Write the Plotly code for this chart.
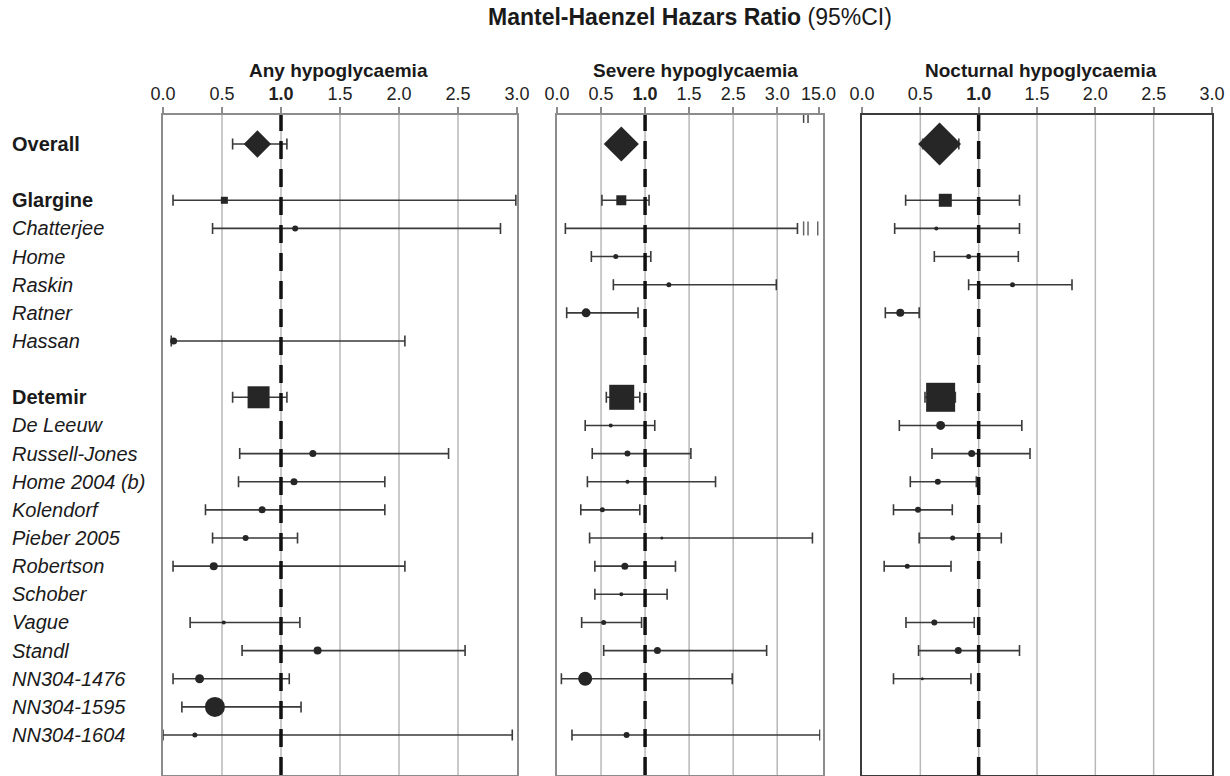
import plotly.graph_objects as go

# ---------------- data ----------------
rows = ["Overall", None, "Glargine", "Chatterjee", "Home", "Raskin", "Ratner", "Hassan", None,
        "Detemir", "De Leeuw", "Russell-Jones", "Home 2004 (b)", "Kolendorf", "Pieber 2005",
        "Robertson", "Schober", "Vague", "Standl", "NN304-1476", "NN304-1595", "NN304-1604"]
bold_rows = ["Overall", "Glargine", "Detemir"]
studies = [r for r in rows if r is not None]

# Any hypoglycaemia
any_hr = [0.80, 0.52, 1.12, None, None, None, 0.09, 0.81, None, 1.27, 1.11, 0.84, 0.70, 0.43, None, 0.515, 1.31, 0.31, 0.44, 0.27]
any_lo = [0.59, 0.085, 0.42, None, None, None, 0.07, 0.59, None, 0.65, 0.64, 0.36, 0.42, 0.085, None, 0.23, 0.67, 0.085, 0.16, 0.0]
any_hi = [1.05, 2.99, 2.86, None, None, None, 2.05, 1.05, None, 2.42, 1.88, 1.88, 1.14, 2.05, None, 1.16, 2.56, 1.07, 1.17, 2.96]

# Severe hypoglycaemia (positions on the broken axis)
sev_hr = [0.73, 0.73, 1.0, 0.667, 1.27, 0.33, None, 0.735, 0.61, 0.80, 0.80, 0.515, 1.19, 0.77, 0.73, 0.53, 1.14, 0.32, None, 0.79]
sev_lo = [None, 0.51, 0.095, 0.39, 0.64, 0.11, None, 0.56, 0.32, 0.40, 0.345, 0.27, 0.37, 0.43, 0.43, 0.28, 0.53, 0.05, None, 0.17]
sev_hi = [None, 1.045, 2.73, 1.065, 2.49, 0.92, None, 0.94, 1.11, 1.52, 1.80, 0.94, 2.90, 1.345, 1.25, 0.96, 2.38, 1.99, None, 2.985]

# Nocturnal hypoglycaemia
noc_hr = [0.665, 0.714, 0.637, 0.914, 1.29, 0.328, None, 0.674, 0.674, 0.94, 0.65, 0.48, 0.777, 0.388, None, 0.62, 0.825, 0.517, None, None]
noc_lo = [0.52, 0.374, 0.28, 0.62, 0.914, 0.20, None, 0.54, 0.32, 0.60, 0.414, 0.27, 0.49, 0.19, None, 0.377, 0.485, 0.27, None, None]
noc_hi = [0.83, 1.35, 1.35, 1.34, 1.80, 0.49, None, 0.80, 1.37, 1.44, 0.98, 0.774, 1.194, 0.763, None, 0.962, 1.35, 0.934, None, None]

tick_vals_std = [0.0, 0.5, 1.0, 1.5, 2.0, 2.5, 3.0]
tick_text_std = ["0.0", "0.5", "<b>1.0</b>", "1.5", "2.0", "2.5", "3.0"]
tick_vals_sev = [0.0, 0.5, 1.0, 1.5, 2.0, 2.5, 2.97]
tick_text_sev = ["0.0", "0.5", "<b>1.0</b>", "1.5", "2.5", "3.0", "15.0"]
sev_break = 2.80

# ---------------- styles ----------------
any_size = [21, 7, 6, 0, 0, 0, 7, 22, 0, 7, 7, 7, 6, 8, 0, 4, 8, 9, 20, 5]
sev_size = [27, 10, 3, 5, 5, 9, 0, 25, 4, 6, 4, 5, 3, 7, 4, 5, 7, 14, 0, 6]
noc_size = [33, 13, 4, 5, 5, 8, 0, 29, 9, 7, 6, 6, 5, 5, 0, 6, 7, 3, 0, 0]
sym_map = {"Overall": "diamond", "Glargine": "square", "Detemir": "square"}

W, H = 1230, 776
def px(x):
    return x / W
def py(y):
    return 1 - y / H

TOP, BOT = 115, 775
FONT = "Liberation Sans, Arial, sans-serif"
ypos = {r: i for i, r in enumerate(rows) if r is not None}
y_top_val = -1.03
y_bot_val = 22.42

fig = go.Figure()

def add_panel(hr, lo, hi, sizes, xa, ya):
    xs, ys, sz, sy = [], [], [], []
    ex, ey, ep, em = [], [], [], []
    for s, v, l, h, z in zip(studies, hr, lo, hi, sizes):
        if v is None:
            continue
        xs.append(v)
        ys.append(ypos[s])
        sz.append(z)
        sy.append(sym_map.get(s, "circle"))
        if l is not None and h is not None:
            ex.append(v)
            ey.append(ypos[s])
            ep.append(h - v)
            em.append(v - l)
    fig.add_trace(go.Scatter(
        x=ex, y=ey, mode="markers", xaxis=xa, yaxis=ya, showlegend=False,
        marker=dict(size=1, color="rgba(0,0,0,0)"),
        error_x=dict(type="data", symmetric=False, array=ep, arrayminus=em,
                     width=5.5, thickness=1.6, color="#3a3a3a"),
        hoverinfo="skip"))
    fig.add_trace(go.Scatter(
        x=xs, y=ys, mode="markers", xaxis=xa, yaxis=ya, showlegend=False,
        marker=dict(symbol=sy, size=sz, color="#262626", opacity=1, line=dict(width=0)),
        hoverinfo="x+y"))

add_panel(any_hr, any_lo, any_hi, any_size, "x", "y")
add_panel(sev_hr, sev_lo, sev_hi, sev_size, "x2", "y2")
add_panel(noc_hr, noc_lo, noc_hi, noc_size, "x3", "y3")

panels = [
    ("xaxis", "yaxis", "x", "y", [163, 517], [0, 3.0], tick_vals_std, tick_text_std, "#8c8c8c"),
    ("xaxis2", "yaxis2", "x2", "y2", [557, 823], [0, 3.02], tick_vals_sev, tick_text_sev, "#8c8c8c"),
    ("xaxis3", "yaxis3", "x3", "y3", [862, 1212], [0, 3.0], tick_vals_std, tick_text_std, "#3c3c3c"),
]
ydom = [py(BOT), py(TOP)]
shapes = []
for xk, yk, xr, yr, dom, rng, tv, tt, fc in panels:
    fig.layout[xk] = dict(domain=[px(dom[0]), px(dom[1])], range=rng, side="top",
                          anchor=yr, tickvals=tv, ticktext=tt, ticks="outside",
                          ticklen=6, tickwidth=1.5, tickcolor="#8c8c8c",
                          showline=True, mirror=True, linecolor=fc, linewidth=2,
                          showgrid=False, zeroline=False, automargin=False,
                          tickfont=dict(family=FONT, size=18, color="#222"),
                          fixedrange=True)
    fig.layout[yk] = dict(domain=ydom, range=[y_bot_val, y_top_val], anchor=xr,
                          showline=True, mirror=True, linecolor=fc, linewidth=2,
                          showticklabels=False, ticks="", showgrid=False,
                          zeroline=False, automargin=False, fixedrange=True)
    for v in tv[1:-1]:
        shapes.append(dict(type="line", xref=xr, yref=yr + " domain", x0=v, x1=v, y0=0, y1=1,
                           line=dict(color="#b8b8b8", width=1.5), layer="below"))
    shapes.append(dict(type="line", xref=xr, yref=yr + " domain", x0=1.0, x1=1.0, y0=0, y1=1,
                       line=dict(color="#111", width=3.5, dash="18px,10px"), layer="above"))

# broken axis details for severe panel
shapes.append(dict(type="rect", xref="x2", yref="y2", x0=2.74, x1=2.93, y0=-1.6, y1=-0.6,
                   fillcolor="white", line=dict(width=0), layer="above"))
for dx in [0.0, 0.05]:
    shapes.append(dict(type="line", xref="x2", yref="y2", x0=sev_break + dx, x1=sev_break + dx,
                       y0=-1.3, y1=-0.75, line=dict(color="#444", width=1.5), layer="above"))
for r in ["Chatterjee", "NN304-1604"]:
    shapes.append(dict(type="rect", xref="x2", yref="y2", x0=2.99, x1=3.05,
                       y0=ypos[r] - 0.55, y1=ypos[r] + 0.45,
                       fillcolor="white", line=dict(width=0), layer="above"))
for dx in [0.0, 0.05, 0.16]:
    shapes.append(dict(type="line", xref="x2", yref="y2", x0=sev_break + dx, x1=sev_break + dx,
                       y0=ypos["Chatterjee"] - 0.25, y1=ypos["Chatterjee"] + 0.25,
                       line=dict(color="#666", width=1.5), layer="above"))
shapes.append(dict(type="rect", xref="x", yref="y", x0=2.985, x1=3.03,
                   y0=ypos["NN304-1604"] - 0.5, y1=ypos["NN304-1604"] + 0.45,
                   fillcolor="white", line=dict(width=0), layer="above"))

annotations = []
for r in studies:
    txt = f"<b>{r}</b>" if r in bold_rows else f"<i>{r}</i>"
    annotations.append(dict(text=txt, xref="paper", yref="y", x=px(10), y=ypos[r],
                            xanchor="left", yanchor="middle", showarrow=False,
                            font=dict(family=FONT, size=20, color="#1a1a1a")))
for txt, xc in [("Any hypoglycaemia", 338), ("Severe hypoglycaemia", 695), ("Nocturnal hypoglycaemia", 1041)]:
    annotations.append(dict(text=f"<b>{txt}</b>", xref="paper", yref="paper", x=px(xc), y=py(70),
                            xanchor="center", yanchor="middle", showarrow=False,
                            font=dict(family=FONT, size=19, color="#1a1a1a")))
annotations.append(dict(text="<b>Mantel-Haenzel Hazars Ratio</b> (95%CI)", xref="paper", yref="paper",
                        x=px(690), y=py(17), xanchor="center", yanchor="middle", showarrow=False,
                        font=dict(family=FONT, size=23, color="#1a1a1a")))

fig.update_layout(width=W, height=H, margin=dict(l=0, r=0, t=0, b=0),
                  paper_bgcolor="white", plot_bgcolor="white",
                  shapes=shapes, annotations=annotations, showlegend=False)

fig.write_html("out.html", config={"displayModeBar": False},
               post_script="document.body.style.margin='0';document.body.style.overflow='hidden';")
